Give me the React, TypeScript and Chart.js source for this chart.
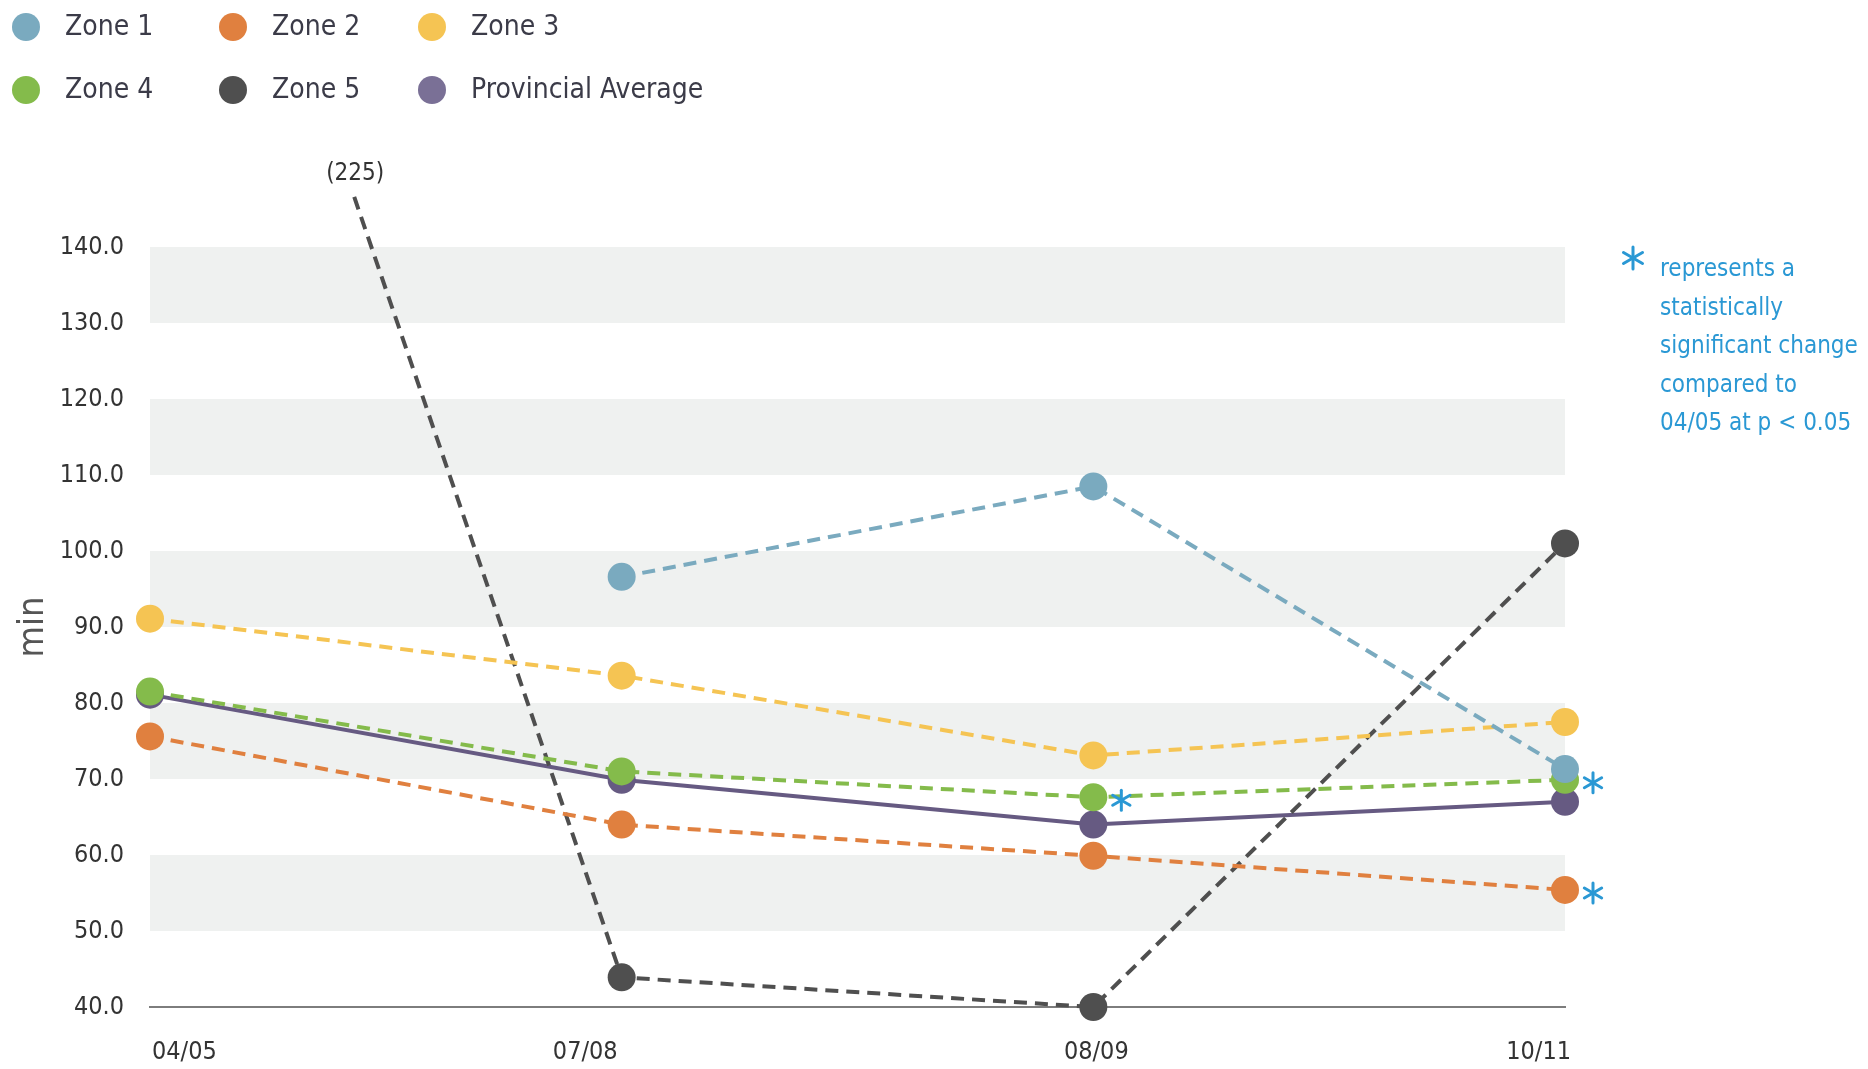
import React, { useEffect, useRef } from "react";
import { Chart, registerables } from "chart.js";

Chart.register(...registerables);

const categories = ["04/05", "07/08", "08/09", "10/11"];
const zone1 = [null, 96.6, 108.5, 71.3];
const zone2 = [75.6, 64.0, 59.9, 55.4];
const zone3 = [91.1, 83.6, 73.1, 77.5];
const zone4 = [81.5, 71.0, 67.6, 69.9];
const zone5 = [225, 43.9, 40.0, 101.0];
const provincial = [81.1, 69.9, 64.0, 67.0];
const zone2Significant = [false, false, false, true];
const zone4Significant = [false, false, true, true];
const yTicks = [40, 50, 60, 70, 80, 90, 100, 110, 120, 130, 140];
const noteLines = [
  "represents a",
  "statistically",
  "significant change",
  "compared to",
  "04/05 at p < 0.05",
];

const FONT =
  "'Liberation Sans Narrow', 'DejaVu Sans Condensed', 'Roboto Condensed', 'Liberation Sans', sans-serif";
const BLUE = "#2a98d4";
const BAND = "#eff1f0";
const X_LABEL_ALIGN: CanvasTextAlign[] = ["left", "right", "center", "right"];
const X_LABEL_SHIFT = [2, -4, 3, 6];

function drawStar(ctx: CanvasRenderingContext2D, x: number, y: number, r: number) {
  ctx.save();
  ctx.strokeStyle = BLUE;
  ctx.lineWidth = 3;
  ctx.lineCap = "round";
  for (let k = 0; k < 3; k++) {
    const a = Math.PI / 2 + (k * Math.PI) / 3;
    ctx.beginPath();
    ctx.moveTo(x - Math.cos(a) * r, y - Math.sin(a) * r);
    ctx.lineTo(x + Math.cos(a) * r, y + Math.sin(a) * r);
    ctx.stroke();
  }
  ctx.restore();
}

const bandsPlugin = {
  id: "bands",
  beforeDatasetsDraw(chart: any) {
    const { ctx, chartArea, scales } = chart;
    const y = scales.y;
    ctx.save();
    ctx.fillStyle = BAND;
    for (let i = 0; i < yTicks.length - 1; i++) {
      if (i % 2 === 1) {
        const top = y.getPixelForValue(yTicks[i + 1]);
        const bot = y.getPixelForValue(yTicks[i]);
        ctx.fillRect(chartArea.left, top, chartArea.right - chartArea.left, bot - top);
      }
    }
    ctx.restore();
  },
};

const ZONE5_CLIP_TOP = 53;

const extrasPlugin = {
  id: "extras",
  afterDatasetsDraw(chart: any) {
    const { ctx, chartArea } = chart;
    const sig: [number, boolean[]][] = [
      [1, zone2Significant],
      [3, zone4Significant],
    ];
    sig.forEach(([di, flags]) => {
      const meta = chart.getDatasetMeta(di);
      flags.forEach((f, j) => {
        if (!f) return;
        const pt = meta.data[j];
        drawStar(ctx, pt.x + 28, pt.y + 3, 10);
      });
    });
    const m5 = chart.getDatasetMeta(4);
    const p0 = m5.data[0];
    const p1 = m5.data[1];
    const clipTop = chartArea.top - ZONE5_CLIP_TOP;
    const t = (p1.y - clipTop) / (p1.y - p0.y);
    const x = p1.x + (p0.x - p1.x) * t;
    ctx.save();
    ctx.font = `24px ${FONT}`;
    ctx.fillStyle = "#333";
    ctx.textAlign = "center";
    ctx.textBaseline = "middle";
    ctx.fillText(`(${zone5[0]})`, x + 2, clipTop - 20);
    ctx.restore();
  },
  afterDraw(chart: any) {
    const { ctx } = chart;
    // x labels
    const xs = chart.scales.x;
    ctx.save();
    ctx.font = `25px ${FONT}`;
    ctx.fillStyle = "#333";
    ctx.textBaseline = "middle";
    categories.forEach((c, i) => {
      ctx.textAlign = X_LABEL_ALIGN[i];
      ctx.fillText(c, xs.getPixelForValue(i) + X_LABEL_SHIFT[i], chart.chartArea.bottom + 45);
    });
    // legend
    const cols = [26, 233, 432];
    const rows = [27, 90];
    chart.data.datasets.forEach((ds: any, i: number) => {
      const cx = cols[i % 3];
      const cy = rows[Math.floor(i / 3)];
      ctx.fillStyle = ds.legendColor || ds.pointBackgroundColor;
      ctx.beginPath();
      ctx.arc(cx, cy, 14, 0, Math.PI * 2);
      ctx.fill();
      ctx.font = `28px ${FONT}`;
      ctx.fillStyle = "#3b3b48";
      ctx.textAlign = "left";
      ctx.textBaseline = "middle";
      ctx.fillText(ds.label, cx + 39, cy + 1);
    });
    // note
    const right = chart.chartArea.right;
    drawStar(ctx, right + 68, 258, 11);
    ctx.font = `24px ${FONT}`;
    ctx.fillStyle = BLUE;
    ctx.textAlign = "left";
    ctx.textBaseline = "middle";
    noteLines.forEach((line, i) => {
      ctx.fillText(line, right + 95, 270 + i * 38.5);
    });
    ctx.restore();
  },
};

function ds(label: string, data: (number | null)[], color: string, dashed: boolean, extra: any = {}) {
  return {
    label,
    data,
    borderColor: color,
    backgroundColor: color,
    pointBackgroundColor: color,
    pointBorderWidth: 0,
    pointRadius: 14,
    pointHoverRadius: 14,
    borderWidth: dashed ? 4 : 4,
    borderDash: dashed ? [13, 8] : [],
    tension: 0,
    fill: false,
    clip: false,
    ...extra,
  };
}

export default function App() {
  const ref = useRef<HTMLCanvasElement | null>(null);
  useEffect(() => {
    document.body.style.margin = "0";
    document.body.style.overflow = "hidden";
    const canvas = ref.current!;
    const chart = new Chart(canvas, {
      type: "line",
      data: {
        labels: categories,
        datasets: [
          ds("Zone 1", zone1, "#7aaabf", true),
          ds("Zone 2", zone2, "#e0803f", true),
          ds("Zone 3", zone3, "#f5c453", true),
          ds("Zone 4", zone4, "#84bb4b", true),
          ds("Zone 5", zone5, "#4f4f4f", true, {
            clip: { left: false, right: false, bottom: false, top: ZONE5_CLIP_TOP },
          }),
          ds("Provincial Average", provincial, "#665a82", false, { legendColor: "#7a7096" }),
        ] as any,
      },
      options: {
        responsive: false,
        animation: false,
        layout: { padding: { top: 247, right: 303, left: 0, bottom: 0 } },
        plugins: {
          legend: { display: false },
          tooltip: { enabled: false },
        },
        scales: {
          x: {
            type: "category",
            offset: false,
            grid: { display: false },
            border: { display: true, color: "#7d7d7d", width: 2 },
            ticks: { display: false },
            afterFit: (s: any) => {
              s.height = 62;
            },
          },
          y: {
            min: 40,
            max: 140,
            grid: { display: false },
            border: { display: false },
            ticks: {
              stepSize: 10,
              font: { family: FONT, size: 25 },
              color: "#333",
              padding: 18,
              callback: (v: any) => Number(v).toFixed(1),
            },
            title: {
              display: true,
              text: "min",
              font: { family: FONT, size: 36 },
              color: "#555",
              padding: { top: 12, bottom: 0 },
            },
            afterFit: (s: any) => {
              s.width = 150;
            },
          },
        },
      },
      plugins: [bandsPlugin, extrasPlugin],
    });
    return () => chart.destroy();
  }, []);
  return (
    <div style={{ width: 1868, height: 1069 }}>
      <canvas ref={ref} width={1868} height={1069} style={{ display: "block" }} />
    </div>
  );
}
